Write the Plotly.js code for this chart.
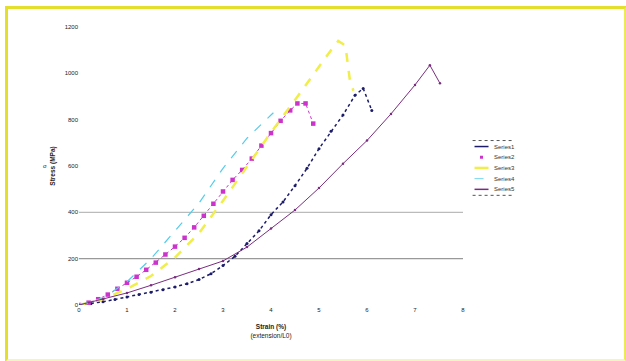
<!DOCTYPE html>
<html><head><meta charset="utf-8">
<script src="https://cdn.plot.ly/plotly-3.0.1.min.js"></script>
<style>
html,body{margin:0;padding:0;background:#fff;}
#wrap{position:relative;width:626px;height:361px;}
#chart{position:absolute;left:0;top:0;width:626px;height:361px;}
#frame{position:absolute;left:5px;top:6px;width:616px;height:350px;border:3px solid #e3df2c;border-bottom-color:#f5f3c4;border-right-color:#ece85a;pointer-events:none;}
</style></head>
<body><div id="wrap"><div id="chart"></div><div id="frame"></div></div>
<script>
// Series 1 (navy, dotted with markers)
const s1x = [0,0.25,0.5,0.75,1,1.25,1.5,1.75,2,2.25,2.5,2.75,3,3.25,3.5,3.75,4,4.25,4.5,4.75,5,5.25,5.5,5.75,5.92,6.1];
const s1y = [0,6,14,24,35,45,55,66,78,92,110,135,170,210,265,320,390,445,515,590,675,750,820,905,935,840];
// Series 2 (magenta squares)
const s2x = [0,0.2,0.4,0.6,0.8,1.0,1.2,1.4,1.6,1.8,2.0,2.2,2.4,2.6,2.8,3.0,3.2,3.4,3.6,3.8,4.0,4.2,4.4,4.55,4.72,4.88];
const s2y = [0,10,25,45,70,96,122,152,183,218,252,290,335,385,437,490,540,583,632,688,742,795,840,870,870,783];
// Series 3 (yellow dashed)
const s3x = [0,0.5,1,1.5,2,2.5,3,3.5,4,4.5,5,5.25,5.4,5.55,5.65,5.72];
const s3y = [0,25,70,125,205,310,450,600,745,885,1030,1100,1140,1120,960,925];
// Series 4 (cyan dashed)
const s4x = [0,0.5,1,1.5,2,2.5,3,3.5,4,4.05];
const s4y = [0,30,100,200,320,440,590,720,820,830];
// Series 5 (purple)
const s5x = [0,0.5,1,1.5,2,2.5,3,3.5,4,4.5,5,5.5,6,6.5,7,7.31,7.52];
const s5y = [0,25,52,85,120,155,190,250,330,410,505,610,710,825,950,1035,957];
const names = ["Series1","Series2","Series3","Series4","Series5"];
const refLines = [200, 400];

const colors = ["#1c1c6a","#cc33cc","#f0ee4a","#55ccea","#7a2d80"];
const data = [
  {x:s1x,y:s1y,name:names[0],mode:"lines+markers",line:{color:colors[0],width:1.5,dash:"dot"},marker:{size:3,color:colors[0]}},
  {x:s2x,y:s2y,name:names[1],mode:"lines+markers",line:{color:colors[1],width:1,dash:"dot"},marker:{size:4.5,symbol:"square",color:colors[1]}},
  {x:s3x,y:s3y,name:names[2],mode:"lines",line:{color:colors[2],width:2.5,dash:"dash"}},
  {x:s4x,y:s4y,name:names[3],mode:"lines",line:{color:colors[3],width:1.2,dash:"dash"}},
  {x:s5x,y:s5y,name:names[4],mode:"lines+markers",line:{color:colors[4],width:1},marker:{size:2.5,color:colors[4]}}
];
const f = {family:"Liberation Sans, Arial, sans-serif",size:6,color:"#222"};

// compact legend drawn with shapes + annotations (plot area: 384 x 278 px)
const PW = 384, PH = 278;
const lgX0 = 1.03, lgTop = 0.57, lgStep = 10.7/PH;
const legendShapes = [], legendAnn = [];
names.forEach((n,i)=>{
  const yy = lgTop - i*lgStep;
  if(i===1){
    legendShapes.push({type:"rect",xref:"paper",yref:"paper",xsizemode:"pixel",ysizemode:"pixel",xanchor:lgX0+7/PW,yanchor:yy,x0:-1.5,x1:1.5,y0:-1.5,y1:1.5,fillcolor:colors[1],line:{width:0}});
  } else {
    legendShapes.push({type:"line",xref:"paper",yref:"paper",x0:lgX0,x1:lgX0+14/PW,y0:yy,y1:yy,
      line:{color:colors[i],width:i===2?2.5:(i===3?0.8:1.5),dash:i===3?"dash":"solid"}});
  }
  legendAnn.push({xref:"paper",yref:"paper",x:lgX0+17/PW,y:yy,xanchor:"left",yanchor:"middle",text:n,showarrow:false,font:{family:f.family,size:6,color:"#333"}});
});
legendShapes.push({type:"line",xref:"paper",yref:"paper",x0:1.025,x1:1.13,y0:lgTop+6/PH,y1:lgTop+6/PH,line:{color:"#555",width:1,dash:"dot"}});
legendShapes.push({type:"line",xref:"paper",yref:"paper",x0:1.025,x1:1.13,y0:lgTop-4*lgStep-6/PH,y1:lgTop-4*lgStep-6/PH,line:{color:"#555",width:1,dash:"dot"}});

const layout = {
  width:626,height:361,
  margin:{l:79,r:163,t:27,b:56},
  paper_bgcolor:"#fff",plot_bgcolor:"#fff",
  font:f,
  showlegend:false,
  xaxis:{range:[0,8],dtick:1,showgrid:false,zeroline:false,showline:false,ticks:"",tickfont:f,
         title:{text:"<b>Strain (%)</b><br>(extension/L0)",font:{family:f.family,size:6.5,color:"#222"},standoff:12}},
  yaxis:{range:[0,1200],dtick:200,showgrid:false,zeroline:false,showline:false,ticks:"",tickfont:f,
         title:{text:"<b>Stress (MPa)</b>",font:{family:f.family,size:6.5,color:"#222"},standoff:8}},
  shapes:refLines.map(v=>({type:"line",xref:"paper",yref:"y",x0:0,x1:1,y0:v,y1:v,layer:"below",line:{color:v===200?"#999":"#bbb",width:1.2}}))
    .concat(legendShapes),
  annotations:[{xref:"paper",yref:"paper",x:-0.1,y:0.5,text:"σ",showarrow:false,font:{family:f.family,size:6,color:"#222"}}].concat(legendAnn)
};
Plotly.newPlot("chart",data,layout,{displayModeBar:false,staticPlot:true});
</script></body></html>
